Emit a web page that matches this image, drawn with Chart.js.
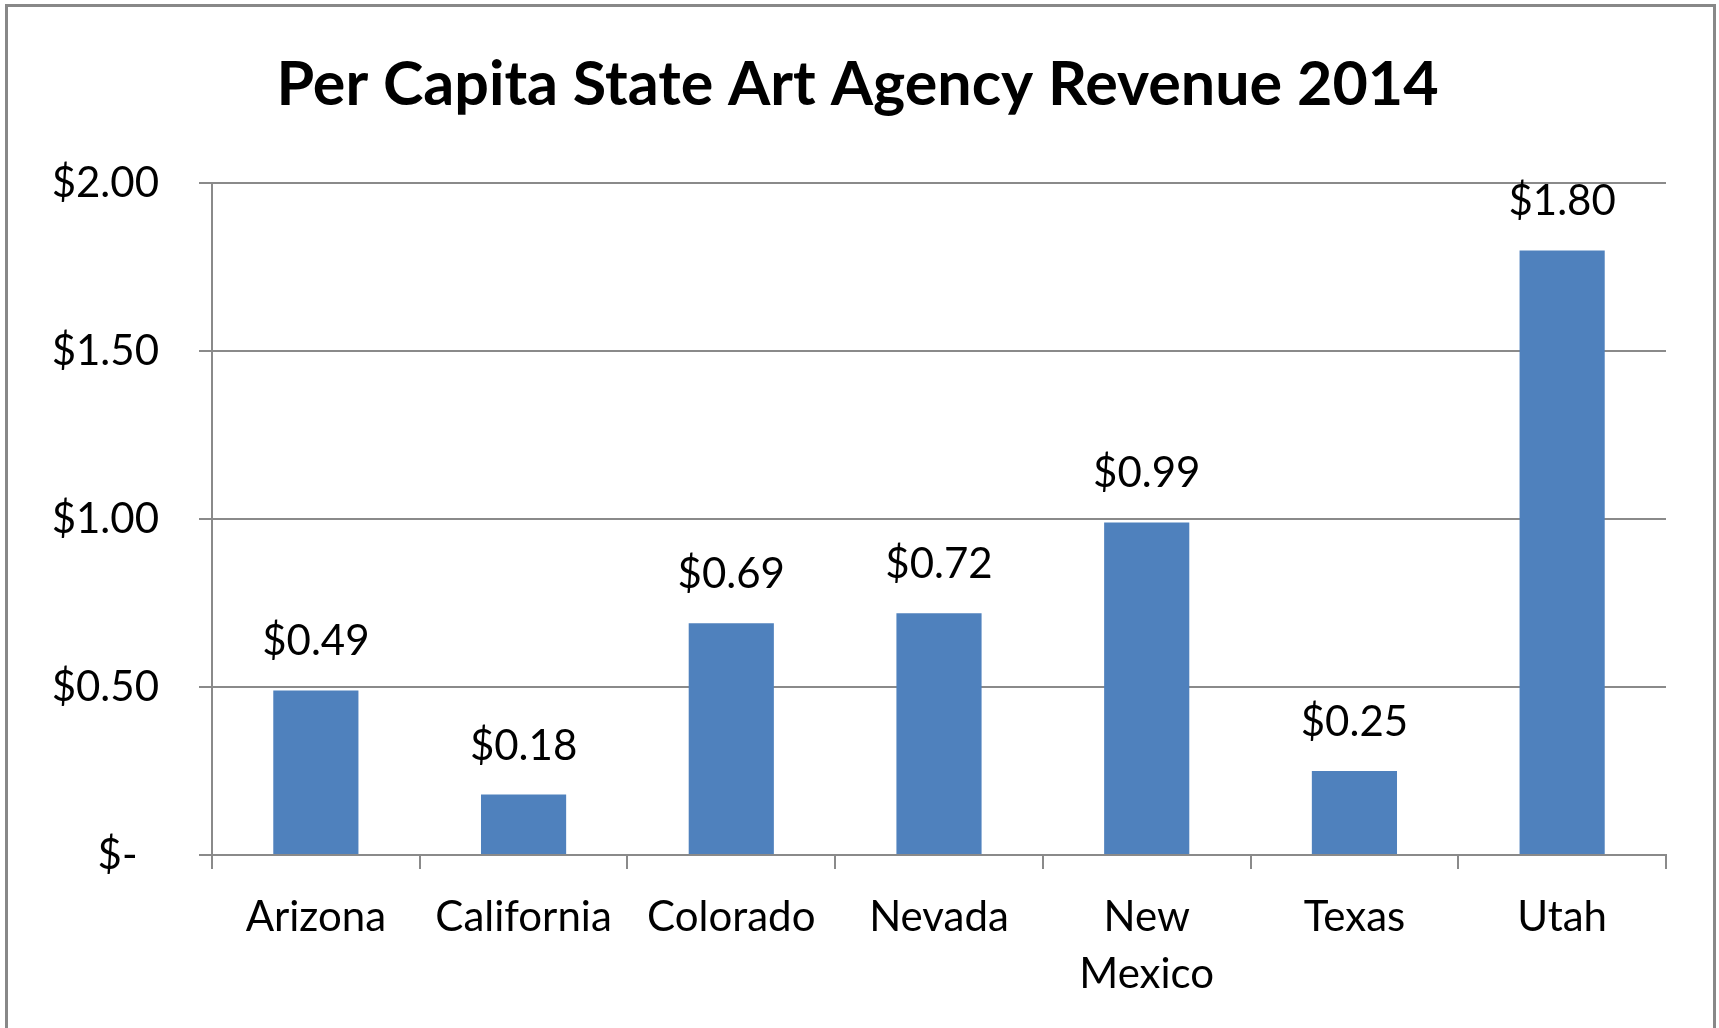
<!DOCTYPE html>
<html>
<head>
<meta charset="utf-8">
<script src="https://cdn.jsdelivr.net/npm/chart.js@4/dist/chart.umd.min.js"></script>
<style>
  html, body { margin: 0; padding: 0; background: #fff; overflow: hidden; }
  #frame {
    position: absolute; left: 5px; top: 4px; width: 1711px; height: 1100px;
    border: 3px solid #888; box-sizing: border-box;
  }
  #myChart { position: absolute; left: 0; top: 0; }
</style>
</head>
<body>
<div id="frame"></div>
<canvas id="myChart" width="1719" height="1028"></canvas>
<script>
const states = ['Arizona', 'California', 'Colorado', 'Nevada', ['New', 'Mexico'], 'Texas', 'Utah'];
const revenue = [0.49, 0.18, 0.69, 0.72, 0.99, 0.25, 1.80];
const yTicks = [0, 0.5, 1.0, 1.5, 2.0];

const gridGray = '#8a8a8a';

function money(v) {
    if (v === 0) return '$-  ';
    return '$' + v.toFixed(2);
}

// draws the $ value above every bar
const barLabels = {
    id: 'barLabels',
    afterDatasetsDraw(chart) {
        const ctx = chart.ctx;
        const meta = chart.getDatasetMeta(0);
        ctx.save();
        ctx.font = '42px Lato';
        ctx.fillStyle = '#000';
        ctx.textAlign = 'center';
        ctx.textBaseline = 'alphabetic';
        meta.data.forEach((bar, i) => {
            ctx.fillText(money(revenue[i]), bar.x, bar.y - 35);
        });
        ctx.restore();
    }
};

Chart.defaults.font.family = 'Lato';
Chart.defaults.color = '#000';

const ctx = document.getElementById('myChart').getContext('2d');
new Chart(ctx, {
    type: 'bar',
    data: {
        labels: states,
        datasets: [{
            data: revenue,
            backgroundColor: '#4F81BD',
            borderWidth: 0,
            categoryPercentage: 1,
            barPercentage: 0.41
        }]
    },
    options: {
        responsive: false,
        animation: false,
        devicePixelRatio: 1,
        layout: { padding: { left: 49, right: 53, top: 0, bottom: 0 } },
        scales: {
            x: {
                grid: {
                    drawOnChartArea: false,
                    drawTicks: true,
                    tickLength: 14,
                    color: gridGray,
                    lineWidth: 2
                },
                border: { display: true, color: gridGray, width: 2 },
                ticks: {
                    font: { size: 42, lineHeight: 1.36 },
                    padding: 20,
                    maxRotation: 0,
                    autoSkip: false
                },
                afterFit(scale) { scale.height = 173; }
            },
            y: {
                min: 0,
                max: 2,
                afterBuildTicks(scale) {
                    scale.ticks = yTicks.map(v => ({ value: v }));
                },
                grid: {
                    color: gridGray,
                    lineWidth: 2,
                    tickLength: 13
                },
                border: { display: true, color: gridGray, width: 2 },
                ticks: {
                    font: { size: 42 },
                    padding: 40,
                    callback: v => money(v)
                },
                afterFit(scale) { scale.width = 163; }
            }
        },
        plugins: {
            legend: { display: false },
            tooltip: { enabled: false },
            title: {
                display: true,
                text: 'Per Capita State Art Agency Revenue 2014',
                font: { size: 61, weight: 'bold', lineHeight: 1.2 },
                color: '#000',
                padding: { top: 49, bottom: 61 }
            }
        }
    },
    plugins: [barLabels]
});
</script>
</body>
</html>
